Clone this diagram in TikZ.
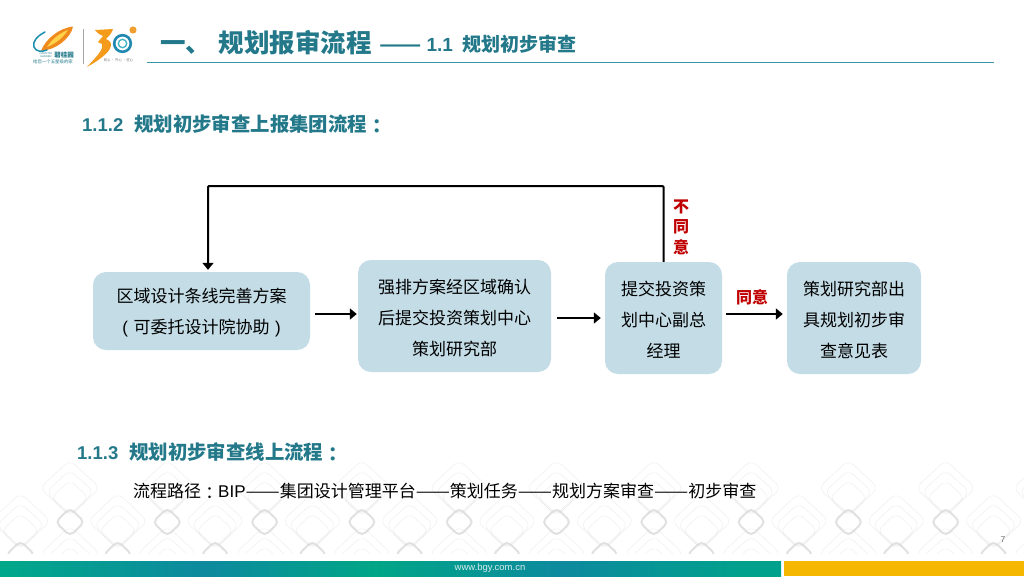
\documentclass[tikz,border=0pt]{standalone}
\usepackage{fontspec}
\setmainfont{Noto Sans CJK SC}
\newfontfamily\lat{Liberation Sans}
\newfontfamily\tcf{Noto Sans CJK TC}
\usetikzlibrary{arrows.meta,calc}
\definecolor{teal1}{HTML}{23798A}
\definecolor{rule1}{HTML}{3A95A5}
\definecolor{boxc}{HTML}{C3DCE6}
\definecolor{redc}{HTML}{C00000}
\definecolor{patc}{HTML}{D8D8D8}
\definecolor{amber}{HTML}{F5B700}
\definecolor{leaforange}{HTML}{F08A1D}
\definecolor{leafyellow}{HTML}{FFD24A}
\definecolor{swoosh}{HTML}{1D8FB0}
\definecolor{three}{HTML}{F59B1B}
\definecolor{ringa}{HTML}{1E88B0}
\definecolor{ringb}{HTML}{45B4C8}
\definecolor{sun}{HTML}{F0A030}
\pgfdeclarehorizontalshading{footbar}{100bp}{
 rgb(0bp)=(0,0.66,0.54);
 rgb(25bp)=(0,0.66,0.54);
 rgb(38bp)=(0.05,0.54,0.62);
 rgb(49bp)=(0.0,0.65,0.53);
 rgb(61bp)=(0.05,0.54,0.62);
 rgb(72.5bp)=(0.0,0.63,0.55);
 rgb(75bp)=(0.0,0.63,0.55);
 rgb(100bp)=(0.0,0.63,0.55)}
\newcommand{\pdash}{\scalebox{1.2}[1]{——}}
\newcommand{\tccolon}[1]{\raisebox{-#1}{\tcf ：}}
\newcommand{\firstln}{\rule{0pt}{18.5pt}}
\tikzset{
 x=1pt,y=-1pt,
 flowbox/.style={fill=boxc,rounded corners=13pt,align=center,inner sep=0pt,font=\fontsize{17}{31}\selectfont},
 flowarrow/.style={line width=2pt,draw=black,-{Triangle[width=11pt,length=7pt]}},
 heading/.style={anchor=west,inner sep=0pt,text=teal1,font=\fontsize{19.4}{22}\bfseries\selectfont},
 redlabel/.style={inner sep=0pt,text=redc,align=center,font=\fontsize{16}{20.5}\bfseries\selectfont},
 plain/.style={anchor=west,inner sep=0pt,font=\fontsize{17}{20}\selectfont},
 patfaint/.style={draw=patc,line width=0.6pt,rounded corners=7pt,opacity=0.35},
 patbold/.style={draw=patc,line width=2pt,rounded corners=5pt,opacity=0.75},
}
\newcommand{\patcell}[2]{%
 \draw[patfaint] (#1-30,#2-34) -- (#1,#2-62) -- (#1+30,#2-34) -- (#1,#2-6) -- cycle;
 \draw[patfaint] (#1-24,#2-30) -- (#1,#2-52) -- (#1+24,#2-30) -- (#1,#2-8) -- cycle;
 \draw[patfaint] (#1-19,#2-24) -- (#1,#2-42) -- (#1+19,#2-24) -- (#1,#2-6) -- cycle;
 \draw[patbold] (#1-14.5,#2) -- (#1,#2-14) -- (#1+14.5,#2) -- (#1,#2+14) -- cycle;
}
\begin{document}
\begin{tikzpicture}
\useasboundingbox (0,0) rectangle (1024,576);
\fill[white] (0,0) rectangle (1024,576);
% background pattern
\begin{scope}
\clip (0,460) rectangle (1024,553);
\foreach \i in {0,...,10}{
 \pgfmathsetmacro{\cx}{70+97.3*\i}
 \patcell{\cx}{522}
 \patcell{\cx}{588}
 \pgfmathsetmacro{\dx}{20.5+97.3*\i}
 \patcell{\dx}{555}
}
\end{scope}
% footer
\shade[shading=footbar] (0,561) rectangle (781,576);
\fill[amber] (784,561) rectangle (1024,576);
\node[inner sep=0pt,text=white!85!teal,font=\lat\fontsize{9.5}{10}\selectfont] (url) at (490,568.5) {www.bgy.com.cn};
\node[inner sep=0pt,text=black!55,font=\lat\fontsize{8.5}{10}\selectfont] (pg) at (1003,540) {7};
% logo left
\fill[leaforange] (41,51) .. controls (46,38) and (60,28) .. (73,26.5) .. controls (71,38) and (56,50) .. (41,51) -- cycle;
\fill[leafyellow] (47,47) .. controls (52,39) and (60,33) .. (68,30) .. controls (63,38) and (55,44) .. (47,47) -- cycle;
\draw[swoosh,line width=1.5pt,line cap=round] (45,32) .. controls (37,36) and (32,42) .. (34,47) .. controls (36,52) and (42,52) .. (47,50);
\node[inner sep=0pt,text=teal1,font=\bfseries\fontsize{6.5}{7}\selectfont] (lg1) at (64,55.5) {碧桂园};
\node[inner sep=0pt,text=teal1,font=\lat\fontsize{2.6}{3}\selectfont,align=center] (lg4) at (46,55.5) {COUNTRY\\GARDEN};
\node[inner sep=0pt,text=teal1,font=\fontsize{4.4}{5}\selectfont] (lg2) at (53,62) {给您一个五星级的家};
\draw[black!35,line width=.6pt] (83.5,29) -- (83.5,64);
% logo 30
\fill[three] (95,30) -- (113,29) .. controls (112,33) and (109,36) .. (106,39) .. controls (116,43) and (112,53) .. (87,67) .. controls (95,58) and (104,50) .. (102,44) -- (98,42) -- (103,36) .. controls (100,35) and (97,33) .. (95,30) -- cycle;
\draw[ringa,line width=2.6pt] (122.5,43.5) circle (8.3pt);
\draw[ringb,line width=1.4pt] (122.5,43.5) circle (4.2pt);
\fill[sun] (133,30) circle (3.6pt);
\node[inner sep=0pt,text=black!60,font=\fontsize{3.3}{4}\selectfont] (lg3) at (118.5,60.5) {初心 · 齐心 · 匠心};
% title
\node[anchor=west,inner sep=0pt,text=teal1,font=\fontsize{25.5}{28}\bfseries\selectfont] (title) at (160,43) {一、\hspace{0.3em}规划报审流程};
\node[anchor=west,inner sep=0pt,text=teal1,font=\fontsize{19}{22}\bfseries\selectfont] (sub) at (379,44) {\scalebox{1.3}[1]{——}\hspace{5pt}{\lat 1.1}\hspace{9pt}规划初步审查};
\coordinate (ruleL) at (147,62.5);
\coordinate (ruleR) at (994,62.5);
\draw[rule1,line width=1.6pt] (ruleL) -- (ruleR);
% headings
\node[heading] (h2) at (82,124) {{\lat\fontsize{18.5}{22}\selectfont 1.1.2}\hspace{11pt}规划初步审查上报集团流程\tccolon{2.5pt}};
\node[heading] (h3) at (77,452) {{\lat\fontsize{18.5}{22}\selectfont 1.1.3}\hspace{11pt}规划初步审查线上流程\tccolon{2.5pt}};
\node[plain] (path) at (133,491) {流程路径\tccolon{2pt}{\lat BIP}\pdash 集团设计管理平台\pdash 策划任务\pdash 规划方案审查\pdash 初步审查};
% boxes
\node[flowbox,minimum width=217pt,minimum height=78pt] (b1) at (201.5,311) {\firstln 区域设计条线完善方案\\{\lat (}\hspace{5.5pt}可委托设计院协助\hspace{5.5pt}{\lat )}};
\node[flowbox,minimum width=193pt,minimum height=112pt] (b2) at (454.5,316) {\firstln 强排方案经区域确认\\后提交投资策划中心\\策划研究部};
\node[flowbox,minimum width=117pt,minimum height=112pt] (b3) at (663.5,318) {\firstln 提交投资策\\划中心副总\\经理};
\node[flowbox,minimum width=134pt,minimum height=112pt] (b4) at (854,318) {\firstln 策划研究部出\\具规划初步审\\查意见表};
% connectors
\draw[flowarrow,shorten <=5pt,shorten >=1pt] ([yshift=-3pt]b1.east) -- ([yshift=-3pt]b1.east -| b2.west);
\draw[flowarrow,shorten <=6pt,shorten >=4pt] ([yshift=-2pt]b2.east) -- ([yshift=-2pt]b2.east -| b3.west);
\draw[flowarrow,shorten <=4pt,shorten >=4pt] ([yshift=4pt]b3.east) -- ([yshift=4pt]b3.east -| b4.west);
\coordinate (topR) at (663.5,186);
\coordinate (topL) at (208,186);
\draw[flowarrow,shorten >=2pt,rounded corners=1pt] (b3.north) -- (topR) -- (topL) -- ([xshift=6.5pt]b1.north);
% labels
\node[redlabel] (no) at (681,227) {不\\同\\意};
\node[redlabel] (yes) at (752,297) {同意};
\end{tikzpicture}
\end{document}
